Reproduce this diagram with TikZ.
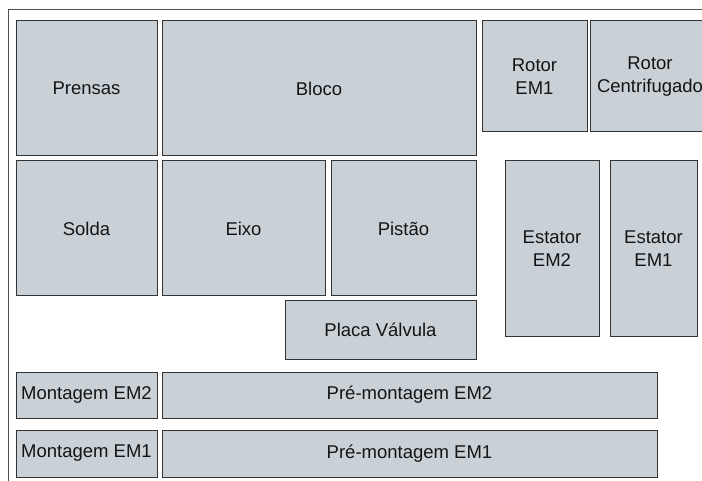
\documentclass[tikz,border=0pt]{standalone}
\usepackage{fontspec}
\setmainfont{Liberation Sans}
\definecolor{boxfill}{HTML}{C9D1D7}
\definecolor{boxline}{HTML}{333333}
\definecolor{frameline}{HTML}{505050}
\begin{document}
\begin{tikzpicture}[x=1pt,y=-1pt,
  area/.style={draw=boxline, fill=boxfill, line width=1pt, inner sep=0pt, outer sep=0pt,
    align=center, text=black!92, font=\fontsize{18.5}{22.3}\selectfont}]
\useasboundingbox (0,0) rectangle (702,481);
\clip (0,0) rectangle (702,481);
\coordinate (ftop) at (720,10);
\coordinate (fcorner) at (8,10);
\coordinate (fbot) at (8,490);
\draw[frameline, line width=1pt] (ftop) -- (fcorner) -- (fbot);
\node[area, minimum width=141pt, minimum height=135pt] (prensas) at (86.5,88.5) {Prensas};
\node[area, minimum width=314pt, minimum height=135pt] (bloco) at (319,88.5) {Bloco};
\node[area, minimum width=105pt, minimum height=111pt] (rotorem1) at (534.5,76.5) {Rotor\\EM1};
\node[area, minimum width=120pt, minimum height=111pt] (rotorcent) at (650,76.5) {Rotor\\Centrifugado};
\node[area, minimum width=141pt, minimum height=135pt] (solda) at (86.5,228.5) {Solda};
\node[area, minimum width=163pt, minimum height=135pt] (eixo) at (243.5,228.5) {Eixo};
\node[area, minimum width=145pt, minimum height=135pt] (pistao) at (403.5,228.5) {Pistão};
\node[area, minimum width=191pt, minimum height=58pt] (placa) at (380.5,330) {Placa Válvula};
\node[area, minimum width=94pt, minimum height=175pt] (estatorem2) at (552,248.5) {Estator\\EM2};
\node[area, minimum width=87pt, minimum height=175pt] (estatorem1) at (653.5,248.5) {Estator\\EM1};
\node[area, minimum width=141pt, minimum height=46pt] (montem2) at (86.5,395) {Montagem EM2};
\node[area, minimum width=495pt, minimum height=46pt] (preem2) at (409.5,395) {Pré-montagem EM2};
\node[area, minimum width=141pt, minimum height=47pt] (montem1) at (86.5,453.5) {Montagem EM1};
\node[area, minimum width=495pt, minimum height=47pt] (preem1) at (409.5,453.5) {Pré-montagem EM1};
\end{tikzpicture}
\end{document}
